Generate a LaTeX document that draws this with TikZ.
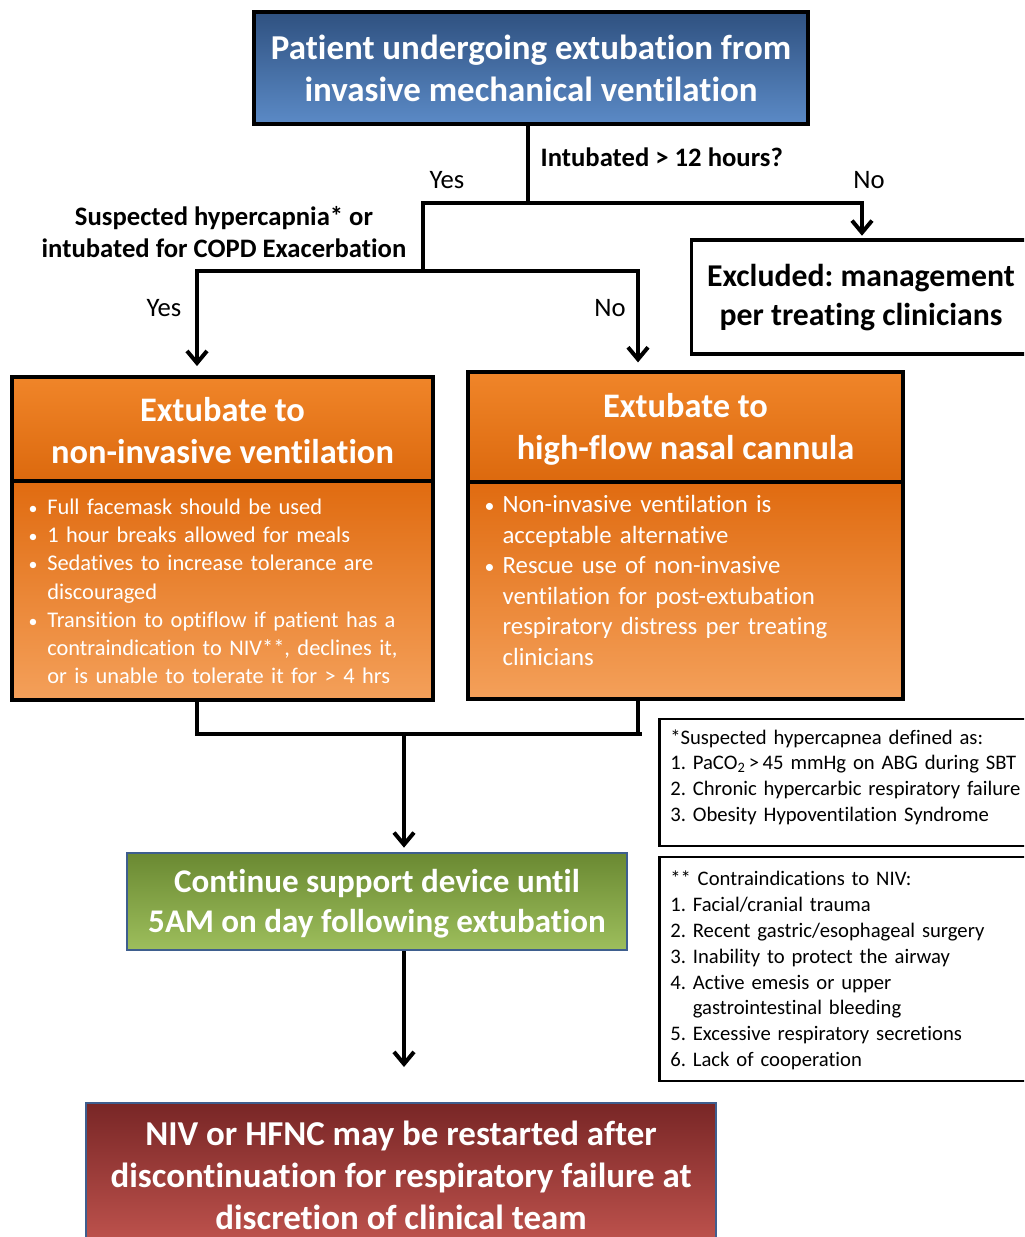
\documentclass[tikz,border=0pt]{standalone}
\usepackage{fontspec}
\setmainfont{Carlito}[Ligatures=NoCommon]
\usetikzlibrary{arrows.meta}
\definecolor{blueT}{HTML}{2F5180}
\definecolor{blueB}{HTML}{5B8AC6}
\definecolor{orHT}{HTML}{F08529}
\definecolor{orHB}{HTML}{DC690E}
\definecolor{orBT}{HTML}{E06B10}
\definecolor{orBB}{HTML}{F4A05A}
\definecolor{grT}{HTML}{6A8932}
\definecolor{grB}{HTML}{9DBE5C}
\definecolor{rdT}{HTML}{782626}
\definecolor{rdB}{HTML}{C2554F}
\definecolor{edgeB}{HTML}{3E5E8E}
\newcommand\bul[2]{\hangindent=#1\hangafter=1\noindent\makebox[#1][l]{\hspace{1pt}\scalebox{0.8}{\textbullet}}#2\par}
\frenchspacing
\begin{document}
\begin{tikzpicture}[x=0.75pt,y=-0.75pt,
  conn/.style={line width=3pt,black},
  arr/.style={conn,-{Straight Barb[length=9pt,width=15pt,line width=3pt]}},
  boxline/.style={draw=black,line width=2.4pt},
  ttl/.style={text=white,font=\bfseries,align=center},
  lbl/.style={font=\bfseries\fontsize{20}{24}\selectfont,align=center},
  yn/.style={font=\fontsize{20}{22}\selectfont}]
\path[use as bounding box,clip] (0,0) rectangle (1024,1237);
\fill[white] (0,0) rectangle (1024,1237);

% top box
\node[boxline,top color=blueT,bottom color=blueB,minimum width=415.5pt,minimum height=84pt,inner sep=0pt] (top) at (531,68) {};
\node[ttl,font=\bfseries\fontsize{26.2}{31.5}\selectfont] (topt) at (531,68) {Patient undergoing extubation from\\invasive mechanical ventilation};

% excluded box
\node[boxline,fill=white,minimum width=255pt,minimum height=85.5pt,inner sep=0pt,anchor=west] (excl) at (690,297) {};
\node[font=\bfseries\fontsize{23.8}{29.2}\selectfont,align=center] (exclt) at (861,298) {Excluded: management\\per treating clinicians};

% NIV box
\node[boxline,top color=orHT,bottom color=orHB,minimum width=315.75pt,minimum height=78pt,inner sep=0pt] (nivh) at (222.5,429) {};
\node[boxline,top color=orBT,bottom color=orBB,minimum width=315.75pt,minimum height=164.25pt,inner sep=0pt] (nivb) at (222.5,590.5) {};
\node[ttl,font=\bfseries\fontsize{25.8}{31.5}\selectfont] (nivt) at (222.5,431) {Extubate to\\non-invasive ventilation};
\node[text=white,anchor=west,text width=310pt,inner sep=0pt,font=\fontsize{16.8}{21.2}\selectfont] (nivl) at (27,591.5) {%
\bul{15pt}{Full facemask should be used}
\bul{15pt}{1 hour breaks allowed for meals}
\bul{15pt}{Sedatives to increase tolerance are\newline discouraged}
\bul{15pt}{Transition to optiflow if patient has a\newline contraindication to NIV**, declines it,\newline or is unable to tolerate it for > 4 hrs}};

% HFNC box
\node[boxline,top color=orHT,bottom color=orHB,minimum width=326.25pt,minimum height=82.5pt,inner sep=0pt] (hfh) at (685.5,427) {};
\node[boxline,top color=orBT,bottom color=orBB,minimum width=326.25pt,minimum height=162.75pt,inner sep=0pt] (hfb) at (685.5,590.5) {};
\node[ttl,font=\bfseries\fontsize{25.8}{31.5}\selectfont] (hft) at (685.5,429) {Extubate to\\high-flow nasal cannula};
\node[text=white,anchor=west,text width=320pt,inner sep=0pt,font=\fontsize{18.6}{22.9}\selectfont] (hfl) at (483,580.5) {%
\bul{14.5pt}{Non-invasive ventilation is\newline acceptable alternative}
\bul{14.5pt}{Rescue use of non-invasive\newline ventilation for post-extubation\newline respiratory distress per treating\newline clinicians}};

% footnote boxes
\node[boxline,fill=white,minimum width=279pt,minimum height=95.25pt,inner sep=0pt,anchor=west,line width=2pt] (fn1) at (658,782.5) {};
\node[anchor=west,text width=300pt,inner sep=0pt,font=\fontsize{15.5}{19.3}\selectfont] (fn1t) at (670,777) {%
*Suspected hypercapnea defined as:\\
1. PaCO\textsubscript{2}\,>\,45 mmHg on ABG during SBT\\
2. Chronic hypercarbic respiratory failure\\
3. Obesity Hypoventilation Syndrome};
\node[boxline,fill=white,minimum width=279pt,minimum height=168pt,inner sep=0pt,anchor=west,line width=2pt] (fn2) at (658,969) {};
\node[anchor=west,text width=300pt,inner sep=0pt,font=\fontsize{15.5}{19.4}\selectfont] (fn2t) at (670,970.5) {%
** Contraindications to NIV:\\
1. Facial/cranial trauma\\
2. Recent gastric/esophageal surgery\\
3. Inability to protect the airway\\
4. Active emesis or upper\\
\phantom{4. }gastrointestinal bleeding\\
5. Excessive respiratory secretions\\
6. Lack of cooperation};

% green box
\node[draw=edgeB,line width=2pt,top color=grT,bottom color=grB,minimum width=375pt,minimum height=72.75pt,inner sep=0pt] (grn) at (377,901.5) {};
\node[ttl,font=\bfseries\fontsize{24.8}{30}\selectfont] (grnt) at (377,904) {Continue support device until\\5AM on day following extubation};

% red box
\node[draw=edgeB,line width=2pt,top color=rdT,bottom color=rdB,minimum width=472.5pt,minimum height=110.25pt,inner sep=0pt] (red) at (401,1176.5) {};
\node[ttl,font=\bfseries\fontsize{26.2}{31.5}\selectfont] (redt) at (401,1175) {NIV or HFNC may be restarted after\\discontinuation for respiratory failure at\\discretion of clinical team};

% connectors
\coordinate (j1) at (528,203);
\coordinate (jL) at (423,203);
\coordinate (jR) at (862,203);
\coordinate (k) at (423,271);
\coordinate (kL) at (197,271);
\coordinate (kR) at (638,271);
\coordinate (m) at (404,734);
\coordinate (mL) at (197,734);
\coordinate (mR) at (640,734);

\draw[conn] (top.south -| j1) -- (j1);
\draw[conn,line cap=rect] (jL) -- (jR);
\draw[arr,shorten >=2pt] (jR) -- (excl.north -| jR);
\draw[conn] (jL) -- (k);
\draw[conn,line cap=rect] (kL) -- (kR);
\draw[arr,shorten >=7pt] (kL) -- (nivh.north -| kL);
\draw[arr,shorten >=6pt] (kR) -- (hfh.north -| kR);
\draw[conn] (nivb.south -| mL) -- (mL);
\draw[conn] (hfb.south -| kR) -- (kR |- m);
\draw[conn,line cap=rect] (mL) -- (mR);
\draw[arr,shorten >=3pt] (m) -- (grn.north -| m);
\draw[arr,shorten >=26pt] (grn.south -| m) -- (red.north -| m);

% labels
\node[lbl,anchor=west] (q1) at (536,157) {Intubated > 12 hours?};
\node[yn] (y1) at (447,180) {Yes};
\node[yn] (n1) at (869,180) {No};
\node[lbl] (q2) at (224,232) {Suspected hypercapnia* or\\intubated for COPD Exacerbation};
\node[yn] (y2) at (164,308) {Yes};
\node[yn] (n2) at (610,308) {No};
\end{tikzpicture}
\end{document}
